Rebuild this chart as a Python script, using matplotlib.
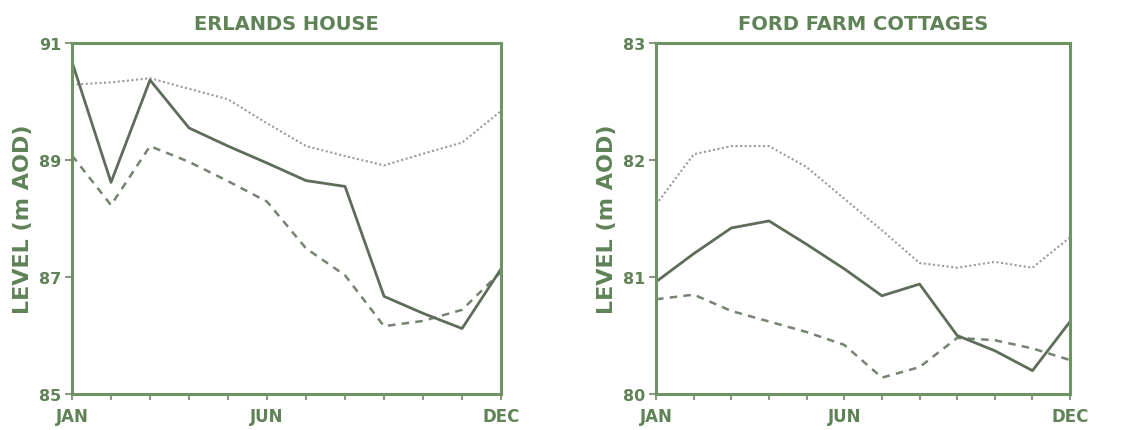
import matplotlib
matplotlib.use('Agg')
import matplotlib.pyplot as plt

months = ['JAN', 'FEB', 'MAR', 'APR', 'MAY', 'JUN', 'JUL', 'AUG', 'SEP', 'OCT', 'NOV', 'DEC']
month_labels = ['JAN', '', '', '', '', 'JUN', '', '', '', '', '', 'DEC']

erlands_mean = [90.68, 88.62, 90.37, 89.55, 89.24, 88.95, 88.65, 88.55, 86.67, 86.38, 86.12, 87.14]
erlands_max = [90.29, 90.33, 90.40, 90.22, 90.04, 89.63, 89.24, 89.07, 88.91, 89.11, 89.30, 89.84]
erlands_min = [89.08, 88.23, 89.24, 88.97, 88.64, 88.29, 87.49, 87.03, 86.16, 86.25, 86.44, 87.09]
erlands_yticks = [85, 87, 89, 91]

ford_mean = [80.96, 81.20, 81.42, 81.48, 81.28, 81.07, 80.84, 80.94, 80.50, 80.37, 80.20, 80.62]
ford_max = [81.62, 82.05, 82.12, 82.12, 81.94, 81.67, 81.40, 81.12, 81.08, 81.13, 81.08, 81.34]
ford_min = [80.81, 80.85, 80.71, 80.62, 80.53, 80.42, 80.14, 80.23, 80.48, 80.46, 80.39, 80.29]
ford_yticks = [80, 81, 82, 83]

green = '#5f8257'
frame = '#6e9465'
solid_col = '#5e6d5a'
dash_col = '#768272'
dot_col = '#9a9a9a'

plt.rcParams['font.family'] = ['DejaVu Sans']
plt.rcParams['font.weight'] = 'bold'

fig = plt.figure(figsize=(11.45, 4.31), dpi=100)
ax1 = fig.add_axes([0.0629, 0.0835, 0.3747, 0.814])
ax2 = fig.add_axes([0.573, 0.0835, 0.3616, 0.814])

panels = [
    (ax1, 'ERLANDS HOUSE', erlands_mean, erlands_max, erlands_min, erlands_yticks),
    (ax2, 'FORD FARM COTTAGES', ford_mean, ford_max, ford_min, ford_yticks),
]

x = list(range(len(months)))
for ax, title, mean, hi, lo, yt in panels:
    ax.plot(x, hi, color=dot_col, lw=1.5, linestyle=(0, (1, 1.2)))
    ax.plot(x, lo, color=dash_col, lw=1.8, linestyle=(0, (3, 2.5)))
    ax.plot(x, mean, color=solid_col, lw=2.0)
    ax.set_xlim(0, 11)
    ax.set_ylim(yt[0], yt[-1])
    ax.set_yticks(yt)
    ax.set_yticklabels([str(v) for v in yt])
    ax.set_xticks(x)
    ax.set_xticklabels(month_labels)
    ax.tick_params(axis='x', direction='out', length=4, width=1.5, color='#8a9a86',
                   labelsize=12, labelcolor=green, pad=5)
    ax.tick_params(axis='y', direction='out', length=5, width=1.5, color='#8a9a86',
                   labelsize=11.5, labelcolor=green, pad=3)
    for s in ax.spines.values():
        s.set_color(frame)
        s.set_linewidth(2.2)
    ax.set_title(title, color=green, fontsize=14, fontweight='bold', pad=10)
    ax.set_ylabel('LEVEL (m AOD)', color=green, fontsize=16, fontweight='bold', labelpad=4)

fig.savefig('out.png', dpi=100, facecolor='white')
